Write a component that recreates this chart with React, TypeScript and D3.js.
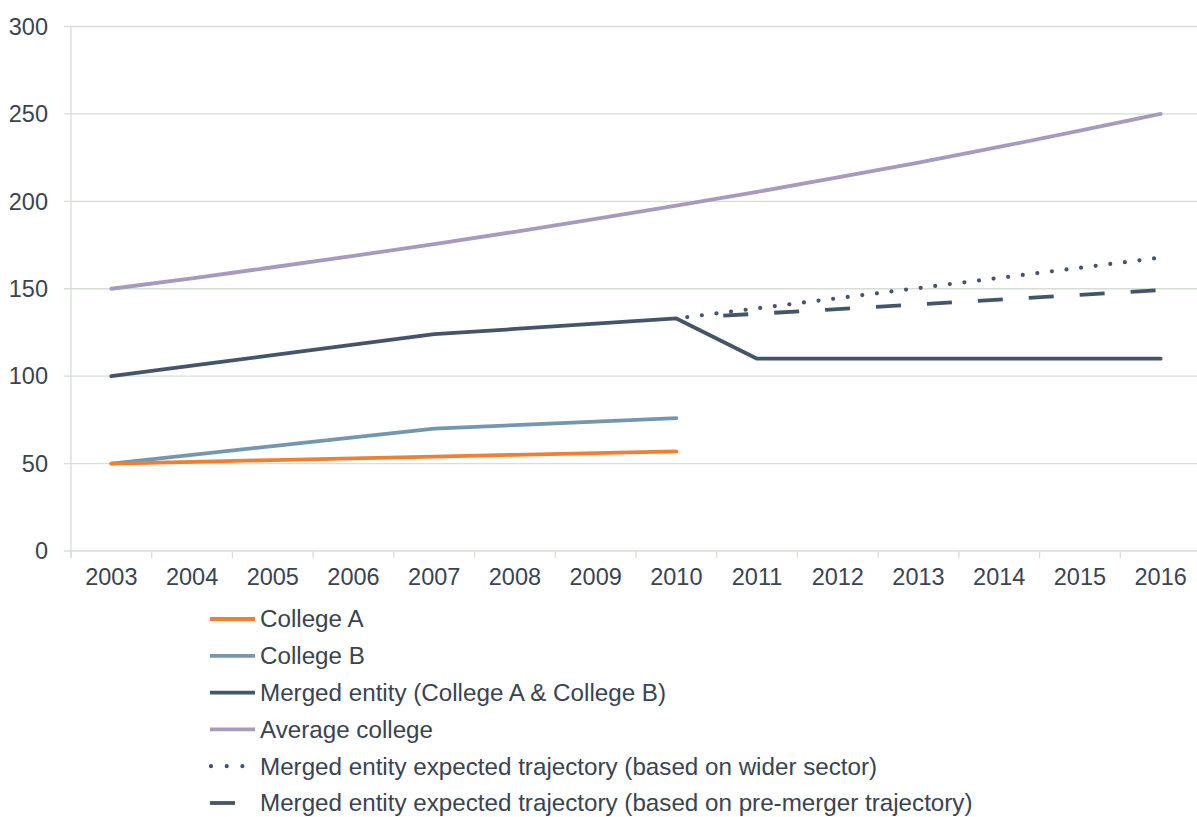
import React from "react";
import * as d3 from "d3";

const years = ["2003","2004","2005","2006","2007","2008","2009","2010","2011","2012","2013","2014","2015","2016"];
const yTicks = [0, 50, 100, 150, 200, 250, 300];

const collegeA = [50, 51, 52, 53, 54, 55, 56, 57];
const collegeB = [50, 55, 60, 65, 70, 72, 74, 76];
const merged = [100, 106, 112, 118, 124, 127, 130, 133, 110, 110, 110, 110, 110, 110];
const averageCollege = [150, 156, 162.3, 168.8, 175.5, 182.6, 189.9, 197.5, 205.4, 213.7, 222.2, 231.1, 240.4, 250];
const expectedSectorYears = ["2010","2011","2012","2013","2014","2015","2016"];
const expectedSector = [133, 138.8, 144.6, 150.4, 156.2, 162, 167.8];
const expectedPreMerger = [133, 135.7, 138.4, 141.1, 143.8, 146.5, 149.2];

const legendLabels = [
  "College A",
  "College B",
  "Merged entity (College A & College B)",
  "Average college",
  "Merged entity expected trajectory (based on wider sector)",
  "Merged entity expected trajectory (based on pre-merger trajectory)",
];

const C_A = "#F07F32";
const C_B = "#7497B0";
const C_M = "#44546A";
const C_AVG = "#A799C0";
const GRID = "#D6DED6";
const TEXT = "#3A4450";
const FONT = "'Liberation Sans', Arial, sans-serif";

const dashPattern = "0 47 " + Array(10).fill("25 26").join(" ");

export default function App() {
  const x = d3.scaleBand<string>().domain(years).range([71, 1201]).padding(0);
  const y = d3.scaleLinear().domain([0, 300]).range([551, 26.5]);
  const cx = (yr: string) => (x(yr) as number) + x.bandwidth() / 2;

  const mk = (yrs: string[], vals: number[]) =>
    d3.line<number>().x((_, i) => cx(yrs[i])).y((v) => y(v))(vals) as string;

  const series = [
    { d: mk(years, averageCollege), color: C_AVG, dash: undefined as string | undefined, cap: "round", w: 3.8 },
    { d: mk(expectedSectorYears, expectedSector), color: C_M, dash: "0 14.7", cap: "round", offset: 3.7, w: 4.2 },
    { d: mk(expectedSectorYears, expectedPreMerger), color: C_M, dash: dashPattern, cap: "butt", w: 3.8 },
    { d: mk(years, merged), color: C_M, dash: undefined, cap: "round", w: 3.8 },
    { d: mk(years.slice(0, 8), collegeB), color: C_B, dash: undefined, cap: "round", w: 3.8 },
    { d: mk(years.slice(0, 8), collegeA), color: C_A, dash: undefined, cap: "round", w: 3.8 },
  ];

  const legendStyles = [
    { color: C_A, dash: undefined as string | undefined, x1: 210, x2: 255, cap: "butt" },
    { color: C_B, dash: undefined, x1: 210, x2: 255, cap: "butt" },
    { color: C_M, dash: undefined, x1: 210, x2: 255, cap: "butt" },
    { color: C_AVG, dash: undefined, x1: 210, x2: 255, cap: "butt" },
    { color: C_M, dash: "0 15.7", x1: 211, x2: 244, cap: "round" },
    { color: C_M, dash: undefined, x1: 210, x2: 235, cap: "butt" },
  ];

  const boundaries = years.map((yr) => x(yr) as number).concat([1201]);

  return (
    <svg width={1197} height={817} style={{ position: "absolute", left: 0, top: 0, background: "#fff" }} fontFamily={FONT}>
      {yTicks.map((t) => (
        <line key={"g" + t} x1={64} x2={1201} y1={y(t)} y2={y(t)} stroke={GRID} strokeWidth={1.3} />
      ))}
      <line x1={71} x2={71} y1={y(300)} y2={558} stroke={GRID} strokeWidth={1.3} />
      {boundaries.map((bx, i) => (
        <line key={"xt" + i} x1={bx} x2={bx} y1={551} y2={558} stroke={GRID} strokeWidth={1.3} />
      ))}
      {yTicks.map((t) => (
        <text key={"yl" + t} x={48} y={y(t)} dy="0.35em" textAnchor="end" fontSize={23.5} fill={TEXT}>
          {t}
        </text>
      ))}
      {years.map((yr) => (
        <text key={"xl" + yr} x={cx(yr)} y={585} textAnchor="middle" fontSize={23.5} fill={TEXT}>
          {yr}
        </text>
      ))}
      {series.map((s, i) => (
        <path
          key={"s" + i}
          d={s.d}
          fill="none"
          stroke={s.color}
          strokeWidth={s.w}
          strokeLinecap={s.cap as any}
          strokeLinejoin="round"
          strokeDasharray={s.dash}
          strokeDashoffset={(s as any).offset}
        />
      ))}
      {legendLabels.map((lab, i) => {
        const ly = 619 + i * 36.8;
        const st = legendStyles[i];
        return (
          <g key={"lg" + i}>
            <line x1={st.x1} x2={st.x2} y1={ly} y2={ly} stroke={st.color} strokeWidth={st.dash ? 4.2 : 3.8} strokeLinecap={st.cap as any} strokeDasharray={st.dash} />
            <text x={260} y={ly} dy="0.35em" fontSize={24.2} fill={TEXT}>
              {lab}
            </text>
          </g>
        );
      })}
    </svg>
  );
}
